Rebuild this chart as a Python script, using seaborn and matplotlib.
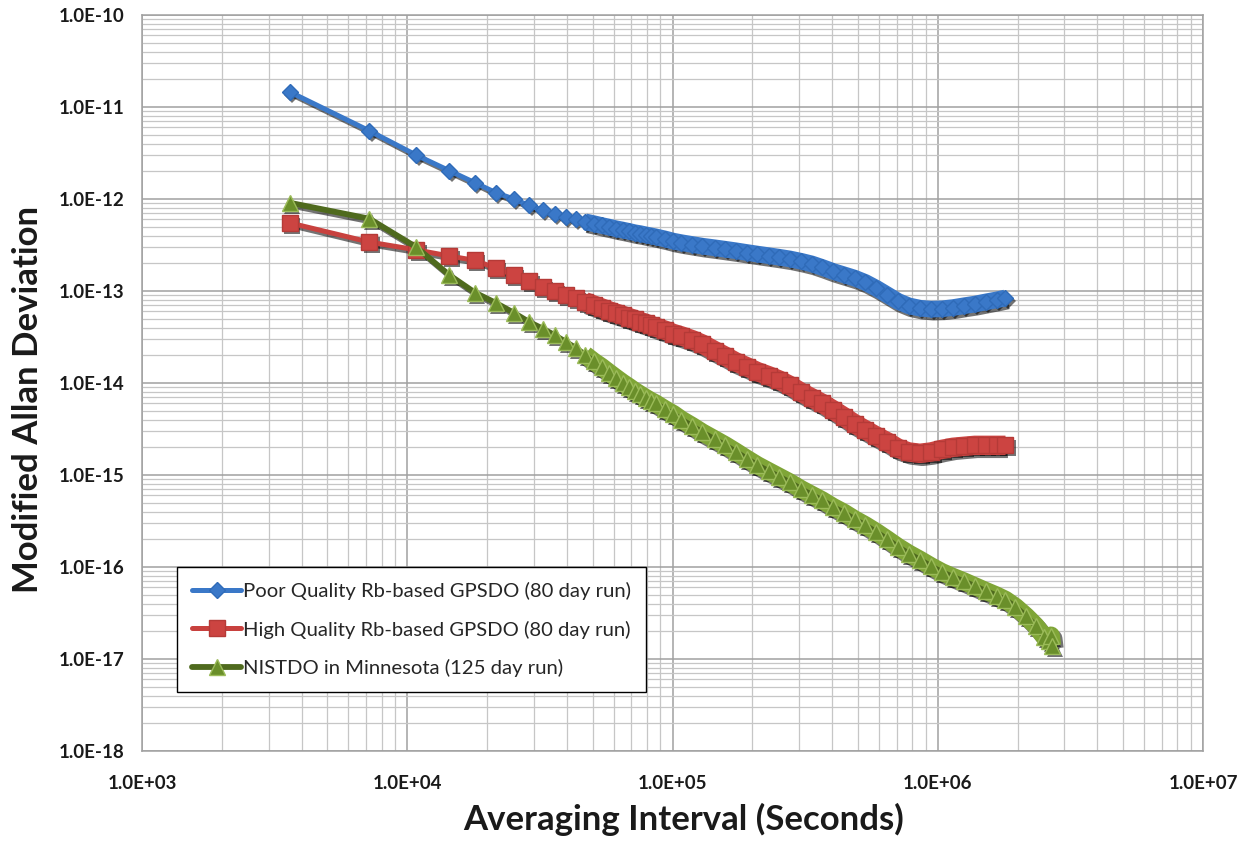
import numpy as np
import matplotlib
matplotlib.use("Agg")
import matplotlib.pyplot as plt
import matplotlib.transforms as mtransforms
from matplotlib.ticker import LogLocator, NullFormatter
import seaborn as sns

# averaging interval in hours (the data was logged once an hour)
hours_rb = [1, 2, 3, 4, 5, 6, 7, 8, 9, 10, 11, 12, 13, 14, 15, 16, 17, 18, 19, 20,
            21, 22, 23, 24, 26, 28, 30, 33, 36, 40, 44, 48, 53, 58, 64, 70, 77, 85,
            93, 102, 112, 123, 135, 148, 163, 179, 197, 216, 238, 262, 288, 317,
            348, 383, 421, 463, 500]
hours_nist = hours_rb + [545, 600, 650, 700, 730, 742, 750]

# modified allan deviation
poor_rb = [1.46e-11, 5.5e-12, 3.0e-12, 2.03e-12, 1.5e-12, 1.17e-12, 1.0e-12, 8.5e-13,
           7.6e-13, 6.9e-13, 6.4e-13, 6.0e-13, 5.65e-13, 5.4e-13, 5.15e-13, 4.95e-13,
           4.75e-13, 4.6e-13, 4.45e-13, 4.3e-13, 4.2e-13, 4.08e-13, 3.98e-13, 3.88e-13,
           3.68e-13, 3.48e-13, 3.35e-13, 3.2e-13, 3.07e-13, 2.95e-13, 2.84e-13, 2.74e-13,
           2.62e-13, 2.52e-13, 2.42e-13, 2.33e-13, 2.23e-13, 2.1e-13, 1.97e-13, 1.8e-13,
           1.63e-13, 1.5e-13, 1.38e-13, 1.24e-13, 1.07e-13, 9.1e-14, 7.7e-14, 6.9e-14,
           6.5e-14, 6.35e-14, 6.4e-14, 6.6e-14, 6.9e-14, 7.2e-14, 7.6e-14, 8.0e-14, 8.4e-14]
high_rb = [5.5e-13, 3.4e-13, 2.8e-13, 2.4e-13, 2.15e-13, 1.77e-13, 1.49e-13, 1.27e-13,
           1.11e-13, 1.0e-13, 9.1e-14, 8.3e-14, 7.65e-14, 7.05e-14, 6.55e-14, 6.1e-14,
           5.75e-14, 5.45e-14, 5.15e-14, 4.9e-14, 4.65e-14, 4.45e-14, 4.25e-14, 4.05e-14,
           3.75e-14, 3.45e-14, 3.25e-14, 2.95e-14, 2.65e-14, 2.25e-14, 1.95e-14, 1.7e-14,
           1.5e-14, 1.33e-14, 1.2e-14, 1.08e-14, 9.4e-15, 7.9e-15, 6.9e-15, 6.0e-15,
           5.1e-15, 4.3e-15, 3.6e-15, 3.1e-15, 2.65e-15, 2.3e-15, 1.95e-15, 1.78e-15,
           1.72e-15, 1.78e-15, 1.9e-15, 2.0e-15, 2.05e-15, 2.1e-15, 2.1e-15, 2.1e-15, 2.1e-15]
nistdo = [9.1e-13, 6.1e-13, 3.0e-13, 1.49e-13, 9.6e-14, 7.4e-14, 5.8e-14, 4.6e-14,
          3.9e-14, 3.3e-14, 2.8e-14, 2.4e-14, 2.03e-14, 1.72e-14, 1.5e-14, 1.3e-14,
          1.14e-14, 1.01e-14, 9.1e-15, 8.2e-15, 7.5e-15, 6.9e-15, 6.4e-15, 6.0e-15,
          5.2e-15, 4.6e-15, 4.0e-15, 3.4e-15, 2.9e-15, 2.45e-15, 2.1e-15, 1.8e-15,
          1.5e-15, 1.28e-15, 1.1e-15, 9.6e-16, 8.3e-16, 7.0e-16, 6.1e-16, 5.3e-16,
          4.5e-16, 3.9e-16, 3.3e-16, 2.85e-16, 2.4e-16, 2.0e-16, 1.65e-16, 1.4e-16,
          1.2e-16, 1.02e-16, 8.8e-17, 7.8e-17, 7.0e-17, 6.2e-17, 5.5e-17, 4.9e-17,
          4.4e-17, 3.7e-17, 2.9e-17, 2.3e-17, 1.75e-17, 1.55e-17, 1.8e-17, 1.4e-17]

labels = ['Poor Quality Rb-based GPSDO (80 day run)',
          'High Quality Rb-based GPSDO (80 day run)',
          'NISTDO in Minnesota (125 day run)']

x_ticks = [1e3, 1e4, 1e5, 1e6, 1e7]
x_tick_labels = ['1.0E+03', '1.0E+04', '1.0E+05', '1.0E+06', '1.0E+07']
y_ticks = [1e-18, 1e-17, 1e-16, 1e-15, 1e-14, 1e-13, 1e-12, 1e-11, 1e-10]
y_tick_labels = ['1.0E-18', '1.0E-17', '1.0E-16', '1.0E-15', '1.0E-14',
                 '1.0E-13', '1.0E-12', '1.0E-11', '1.0E-10']

sns.set_theme(style="white")
plt.rcParams['font.family'] = ['Lato', 'DejaVu Sans']

fig = plt.figure(figsize=(12.47, 8.41), dpi=100)
ax = fig.add_axes([0.1139, 0.107, 0.8508, 0.8752])

# drop shadow under each series, like the excel original
shadow = mtransforms.offset_copy(ax.transData, fig=fig, x=2.5, y=-3, units='dots')

# hours from which the markers pile up into one thick band
band_from = 13

series = [
    (hours_rb, poor_rb, labels[0], '#3a78c8', '#3a78c8', '#2f6bb8', 'D', 8.5, 3.6, 12),
    (hours_rb, high_rb, labels[1], '#c8413e', '#cc4441', '#b53a37', 's', 12, 3.6, 14),
    (hours_nist, nistdo, labels[2], '#4f6a1e', '#6a8f2a', '#9bbb59', '^', 12, 4.2, 13),
]

handles = []
for hrs, vals, lab, col, face, edge, mk, ms, lw, band_lw in series:
    tau = np.array(hrs) * 3600.0
    vals = np.array(vals)
    dense = np.array(hrs) >= band_from
    band_col = face if mk != '^' else '#7fa537'

    # shadows
    ax.plot(tau, vals, color='black', lw=lw, marker=mk, ms=ms, mew=0,
            alpha=0.55, transform=shadow, zorder=2)
    ax.plot(tau[dense], vals[dense], color='black', lw=band_lw, alpha=0.55,
            solid_capstyle='butt', transform=shadow, zorder=2)

    # the thick band where markers overlap
    sns.lineplot(x=tau[dense], y=vals[dense], ax=ax, color=band_col, lw=band_lw,
                 solid_capstyle='butt', legend=False, zorder=3)
    sns.lineplot(x=tau, y=vals, ax=ax, color=col, lw=lw, marker=mk, markersize=ms,
                 markerfacecolor=face, markeredgecolor=edge, markeredgewidth=1,
                 label=lab, legend=False, zorder=4)
    handles.append(ax.lines[-1])

ax.set_xscale('log')
ax.set_yscale('log')
ax.set_xlim(1e3, 1e7)
ax.set_ylim(1e-18, 1e-10)

ax.set_xticks(x_ticks, labels=x_tick_labels, fontweight='bold')
ax.set_yticks(y_ticks, labels=y_tick_labels, fontweight='bold')
for axis in (ax.xaxis, ax.yaxis):
    axis.set_minor_locator(LogLocator(base=10, subs=np.arange(2, 10), numticks=100))
    axis.set_minor_formatter(NullFormatter())

ax.set_axisbelow(True)
ax.grid(True, which='major', color='#a0a0a0', lw=1.1)
ax.grid(True, which='minor', color='#c6c6c6', lw=0.9)
for sp in ax.spines.values():
    sp.set_color('#a0a0a0')
    sp.set_linewidth(1.1)

ax.tick_params(axis='y', which='major', direction='out', length=6, width=1,
               color='#8c8c8c', pad=7, labelsize=13.5, labelcolor='#1a1a1a')
ax.tick_params(axis='x', which='major', length=0, pad=17, labelsize=13.5,
               labelcolor='#1a1a1a')
ax.tick_params(which='minor', length=0)

ax.set_xlabel('Averaging Interval (Seconds)', fontsize=25, fontweight='bold',
              color='#1a1a1a')
ax.xaxis.set_label_coords(0.51, -0.071)
ax.set_ylabel('Modified Allan Deviation', fontsize=25, fontweight='bold',
              color='#1a1a1a')
ax.yaxis.set_label_coords(-0.092, 0.477)

leg = ax.legend(handles, labels, loc='lower left', bbox_to_anchor=(0.033, 0.080),
                frameon=True, fancybox=False, edgecolor='black', framealpha=1,
                fontsize=14.6, handlelength=2.4, handletextpad=0.1,
                labelspacing=1.0, borderpad=0.75, borderaxespad=0)
leg.get_frame().set_linewidth(1.0)

fig.savefig('out.png', dpi=100)
